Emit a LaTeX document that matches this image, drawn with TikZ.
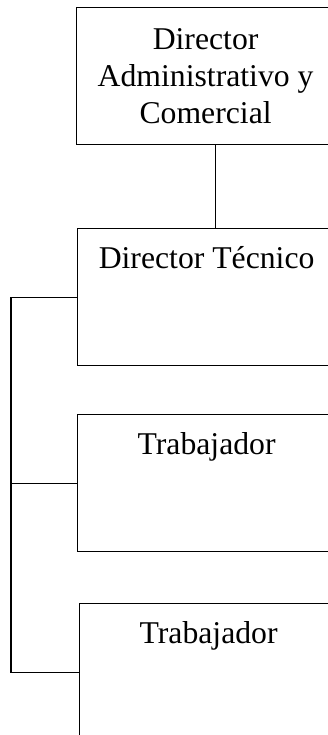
\documentclass[tikz,border=0pt]{standalone}
\usepackage{fontspec}
\setmainfont{Liberation Serif}
\begin{document}
\begin{tikzpicture}[x=1pt, y=-1pt, line width=1.2pt,
	every node/.style = {font=\fontsize{31.7}{37}\selectfont},
	cargo/.style = {shape=rectangle, draw, anchor=north west, inner sep=0pt,
		minimum width=258pt, minimum height=137pt, align=center},
	puesto/.style = {cargo, text height=40pt, text depth=97pt}]
	\useasboundingbox (0,0) rectangle (328,735);
	\clip (0,0) rectangle (328,735);
	\node[cargo] (dac) at (76,7) {Director\\Administrativo y\\Comercial};
	\node[puesto] (dt) at (77,228) {Director Técnico};
	\node[puesto] (trab1) at (77,414) {Trabajador};
	\node[puesto] (trab2) at (79,603) {Trabajador};
	\coordinate (bus) at (11,0);
	% lineas
	\draw ([xshift=10pt]dac.south) -- ([xshift=10pt]dac.south |- dt.north);
	\draw (dt.west) -- (dt.west -| bus) |- (trab2.west);
	\draw (trab1.west) -- (trab1.west -| bus);
\end{tikzpicture}
\end{document}
